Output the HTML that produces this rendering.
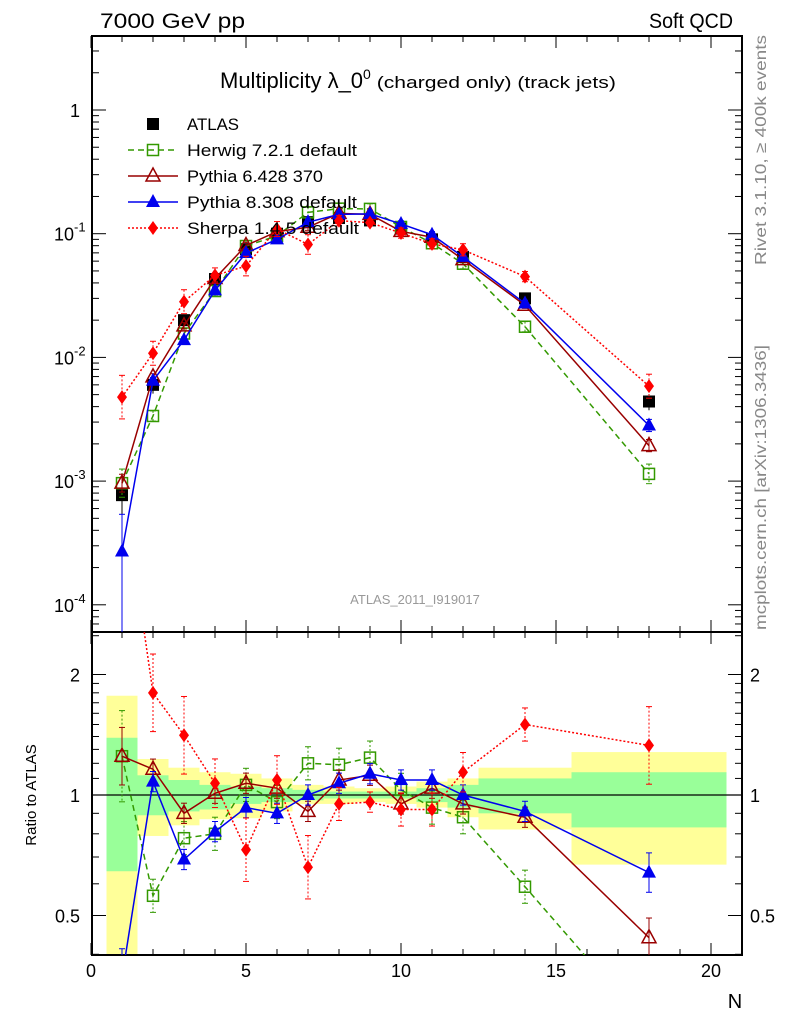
<!DOCTYPE html>
<html><head><meta charset="utf-8"><style>
html,body{margin:0;padding:0;background:#fff;width:786px;height:1024px;overflow:hidden;}
svg{display:block;font-family:"Liberation Sans",sans-serif;}
</style></head><body>
<svg id="c" width="786" height="1024" viewBox="0 0 786 1024">
<text x="100" y="28" font-size="21" textLength="145" lengthAdjust="spacingAndGlyphs">7000 GeV pp</text>
<text x="649" y="28" font-size="21" textLength="84" lengthAdjust="spacingAndGlyphs">Soft QCD</text>
<text x="220" y="88" font-size="22">Multiplicity λ_0<tspan font-size="14" dy="-9">0</tspan><tspan font-size="17" dy="9" textLength="245" lengthAdjust="spacingAndGlyphs"> (charged only) (track jets)</tspan></text>
<text transform="translate(766,265) rotate(-90)" font-size="16" fill="#888" textLength="230" lengthAdjust="spacingAndGlyphs">Rivet 3.1.10, ≥ 400k events</text>
<text transform="translate(766,630) rotate(-90)" font-size="16" fill="#888" textLength="285" lengthAdjust="spacingAndGlyphs">mcplots.cern.ch [arXiv:1306.3436]</text>
<text x="415" y="604" font-size="13" fill="#999" text-anchor="middle">ATLAS_2011_I919017</text>
<text transform="translate(36,795) rotate(-90)" font-size="15" text-anchor="middle">Ratio to ATLAS</text>
<text x="735" y="1008" font-size="20" text-anchor="middle">N</text>
<g id="bands"></g><g id="grid"></g><g id="series"></g><g id="legend"></g>
</svg>
<script>
const NS="http://www.w3.org/2000/svg";
const xs=[1,2,3,4,5,6,7,8,9,10,11,12,14,18];
const dataVals=[7.7e-4,6.0e-3,0.020,0.043,0.075,0.10,0.124,0.134,0.128,0.11,0.09,0.065,0.030,0.0044];
const dataErr=[0.35,0.15,0.08,0.06,0.05,0.04,0.03,0.03,0.03,0.03,0.04,0.05,0.08,0.15];
const herwigRatio=[1.25,0.56,0.78,0.80,1.06,0.96,1.20,1.19,1.24,1.03,0.93,0.88,0.59,0.26];
const pythia6Ratio=[1.25,1.16,0.90,1.01,1.07,1.04,0.91,1.09,1.12,0.95,1.04,0.95,0.88,0.44];
const pythia8Ratio=[0.35,1.08,0.69,0.81,0.93,0.90,1.00,1.07,1.13,1.09,1.09,1.00,0.91,0.64];
const sherpaRatio=[6.2,1.80,1.41,1.07,0.73,1.09,0.66,0.95,0.96,0.92,0.92,1.14,1.50,1.33];
const sherpaErr=[0.5,0.25,0.25,0.15,0.2,0.15,0.2,0.1,0.06,0.1,0.1,0.12,0.1,0.25];
const binEdges=[0.5,1.5,2.5,3.5,4.5,5.5,6.5,7.5,8.5,9.5,10.5,11.5,12.5,15.5,20.5];
const yellowHi=[1.77,1.23,1.17,1.14,1.13,1.10,1.06,1.05,1.04,1.05,1.08,1.10,1.17,1.28];
const yellowLo=[0.3,0.79,0.84,0.87,0.875,0.91,0.95,0.95,0.96,0.95,0.93,0.88,0.82,0.67];
const greenHi=[1.39,1.12,1.09,1.06,1.05,1.04,1.03,1.02,1.02,1.02,1.04,1.06,1.10,1.14];
const greenLo=[0.645,0.89,0.91,0.92,0.95,0.96,0.97,0.98,0.98,0.98,0.96,0.93,0.90,0.83];

const X=v=>91+31*v;
const Y=v=>110-123.7*Math.log10(v);
const R=v=>795-120.5*Math.log2(v);
const L=92,Rt=742,T=36,M=632,B=955;
function el(t,a,p){const e=document.createElementNS(NS,t);for(const k in a)e.setAttribute(k,a[k]);p.appendChild(e);return e;}
const svg=document.getElementById('c');
const gB=document.getElementById('bands'),gG=document.getElementById('grid'),gS=document.getElementById('series'),gL=document.getElementById('legend');
const defs=el('defs',{},svg);
const c1=el('clipPath',{id:'cm'},defs);el('rect',{x:L,y:T,width:Rt-L,height:M-T},c1);
const c2=el('clipPath',{id:'cr'},defs);el('rect',{x:L,y:M,width:Rt-L,height:B-M},c2);
const bandG=el('g',{'clip-path':'url(#cr)'},gB);
for(let i=0;i<yellowHi.length;i++){
  const y=el('rect',{x:X(binEdges[i]),width:X(binEdges[i+1])-X(binEdges[i]),y:R(yellowHi[i]),height:R(yellowLo[i])-R(yellowHi[i]),fill:'#ffff99'},bandG);
  
  
  const g=el('rect',{x:X(binEdges[i]),width:X(binEdges[i+1])-X(binEdges[i]),y:R(greenHi[i]),height:R(greenLo[i])-R(greenHi[i]),fill:'#99ff99'},bandG);
  
  
}
el('line',{x1:L,x2:Rt,y1:R(1),y2:R(1),stroke:'#000','stroke-width':1.2},gG);
const f1=el('rect',{x:L,y:T,width:Rt-L,height:M-T,fill:'none',stroke:'#000','stroke-width':2},gG);


const f2=el('rect',{x:L,y:M,width:Rt-L,height:B-M,fill:'none',stroke:'#000','stroke-width':2},gG);


for(let v=0;v<=21;v++){const big=v%5==0;const h=big?12:6;
  el('line',{x1:X(v),x2:X(v),y1:B,y2:B-h,stroke:'#000'},gG);
  el('line',{x1:X(v),x2:X(v),y1:M,y2:M-h,stroke:'#000'},gG);
  el('line',{x1:X(v),x2:X(v),y1:M,y2:M+h,stroke:'#000'},gG);
  el('line',{x1:X(v),x2:X(v),y1:T,y2:T+h,stroke:'#000'},gG);
  if(big&&v<=20){const t=el('text',{x:X(v),y:977,'font-size':18,'text-anchor':'middle'},gG);t.textContent=v;
    
    }
}
for(let d=-5;d<=0;d++){for(let m=1;m<10;m++){const v=m*Math.pow(10,d);const y=Y(v);if(y<T||y>M)continue;const h=m==1?14:7;
  el('line',{x1:L,x2:L+h,y1:y,y2:y,stroke:'#000'},gG);el('line',{x1:Rt,x2:Rt-h,y1:y,y2:y,stroke:'#000'},gG);}}
const yl=[[0,'1'],[-1,'10'],[-2,'10'],[-3,'10'],[-4,'10']];
yl.forEach(([d,s])=>{const t=el('text',{x:d==0?80:54,y:Y(Math.pow(10,d))+7,'font-size':18,'text-anchor':d==0?'end':'start'},gG);t.textContent=s;
  
  
  if(d<0){const s2=el('tspan',{'font-size':13,dy:-9},t);s2.textContent=d;}});
for(const v of [0.4,0.5,0.6,0.7,0.8,0.9,1,1.1,1.2,1.3,1.4,1.5,1.6,1.7,1.8,1.9,2,2.5]){const y=R(v);if(y<M||y>B)continue;const big=(v==0.5||v==1||v==2);const h=big?14:7;
  el('line',{x1:L,x2:L+h,y1:y,y2:y,stroke:'#000'},gG);el('line',{x1:Rt,x2:Rt-h,y1:y,y2:y,stroke:'#000'},gG);}
[[2,'2'],[1,'1'],[0.5,'0.5']].forEach(([v,s])=>{
  const a=el('text',{x:80,y:R(v)+7,'font-size':18,'text-anchor':'end'},gG);a.textContent=s;
  
  
  const b=el('text',{x:750,y:R(v)+7,'font-size':18},gG);b.textContent=s;
  
  });
function marker(type,x,y,col,g){
  if(type=='sq')return el('rect',{x:x-6,y:y-6,width:12,height:12,fill:'#000'},g);
  if(type=='osq')return el('rect',{x:x-5.5,y:y-5.5,width:11,height:11,fill:'#fff','fill-opacity':0.01,stroke:col,'stroke-width':1.5},g);
  if(type=='otri')return el('polygon',{points:`${x},${y-8} ${x-7},${y+5} ${x+7},${y+5}`,fill:'none',stroke:col,'stroke-width':1.5},g);
  if(type=='tri')return el('polygon',{points:`${x},${y-8} ${x-7},${y+5} ${x+7},${y+5}`,fill:col},g);
  if(type=='dia')return el('polygon',{points:`${x},${y-7} ${x-5},${y} ${x},${y+7} ${x+5},${y}`,fill:col},g);
}
const series=[
 {name:'herwig',ratio:herwigRatio,col:'#339900',dash:'6,4',m:'osq',err:0.1},
 {name:'pythia6',ratio:pythia6Ratio,col:'#990000',dash:'',m:'otri',err:0.06},
 {name:'pythia8',ratio:pythia8Ratio,col:'#0000ee',dash:'',m:'tri',err:0.06},
 {name:'sherpa',ratio:sherpaRatio,col:'#ff0000',dash:'2,2',m:'dia',err:null}
];
const gm=el('g',{'clip-path':'url(#cm)'},gS),gr=el('g',{'clip-path':'url(#cr)'},gS);
xs.forEach((x,i)=>{const v=dataVals[i];
  el('line',{x1:X(x),x2:X(x),y1:Y(v*(1+dataErr[i])),y2:Y(Math.max(v*(1-dataErr[i]),1e-6)),stroke:'#000'},gm);
  const m=marker('sq',X(x),Y(v),'#000',gm);
  
  });
series.forEach(s=>{
  const mv=xs.map((x,i)=>dataVals[i]*s.ratio[i]);
  [[gm,mv.map(v=>Y(v))],[gr,s.ratio.map(v=>R(v))]].forEach(([g,ys])=>{
    const p=el('polyline',{points:xs.map((x,i)=>X(x)+','+ys[i]).join(' '),fill:'none',stroke:s.col,'stroke-width':1.5,'stroke-dasharray':s.dash},g);
    
    
    xs.forEach((x,i)=>{let e=s.err===null?sherpaErr[i]:s.err*(i==0?3:(i==13?2:1));
      if(s.name=='pythia8'&&i==0&&g===gm)e=50;
      const base=g===gm?mv[i]:s.ratio[i];const f=g===gm?Y:R;
      el('line',{x1:X(x),x2:X(x),y1:f(base*(1+Math.min(e,1))),y2:f(base/(1+e)),stroke:s.col,'stroke-dasharray':s.dash?'2,2':''},g);
      el('line',{x1:X(x)-3,x2:X(x)+3,y1:f(base*(1+Math.min(e,1))),y2:f(base*(1+Math.min(e,1))),stroke:s.col},g);
      el('line',{x1:X(x)-3,x2:X(x)+3,y1:f(base/(1+e)),y2:f(base/(1+e)),stroke:s.col},g);
      const m=marker(s.m,X(x),ys[i],s.col,g);
      
      });
  });
});
const leg=[['ATLAS','sq','#000',null,52],['Herwig 7.2.1 default','osq','#339900','6,4',170],['Pythia 6.428 370','otri','#990000','',136],['Pythia 8.308 default','tri','#0000ee','',170],['Sherpa 1.4.5 default','dia','#ff0000','2,2',172]];
leg.forEach(([t,m,c,d,w],i)=>{const y=124+26*i;
  const g=el('g',{},gL);
  
  
  if(d!==null)el('line',{x1:128,x2:178,y1:y,y2:y,stroke:c,'stroke-width':1.5,'stroke-dasharray':d},g);
  marker(m,153,y,c,g);
  const tx=el('text',{x:187,y:y+6,'font-size':17,textLength:w,lengthAdjust:'spacingAndGlyphs'},g);tx.textContent=t;});
</script>
</body></html>
